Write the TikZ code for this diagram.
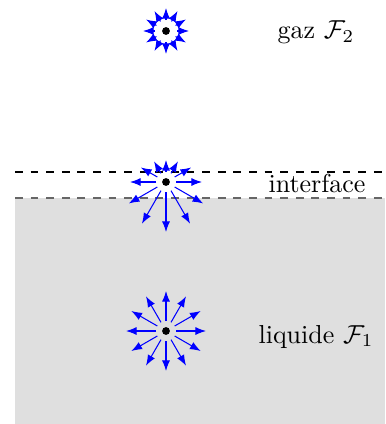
\documentclass[tikz,border=0pt]{standalone}
\usetikzlibrary{arrows.meta,calc}
\begin{document}
\begin{tikzpicture}[x=0.3846pt,y=-0.3846pt,
  arr/.style={blue,line width=0.4pt,-{Latex[length=4.1pt,width=3.1pt]}},
  dot/.style={circle,fill=black,inner sep=0pt,minimum size=3pt},
  lbl/.style={anchor=base,inner sep=0pt}]
\useasboundingbox (0,0) rectangle (385,424);
\fill[gray!25] (15,198) rectangle (385,424);
\draw[dashed,line width=0.4pt] (15,172) -- (385,172);
\draw[dashed,line width=0.4pt,black!60] (15,198) -- (385,198);
% molecules
\node[dot] (m2) at (166,31) {};
\node[dot] (mi) at (166,182) {};
\node[dot] (m1) at (166,331) {};
\foreach \a in {0,30,...,330}{
  \draw[arr] ($(m2)+(\a:11)$) -- ($(m2)+(\a:23)$);
  \draw[arr] ($(m1)+(\a:10)$) -- ($(m1)+(\a:40)$);
  \pgfmathsetmacro{\L}{36+14*sin(\a)}
  \draw[arr] ($(mi)+(\a:10)$) -- ($(mi)+(\a:\L)$);
}
% labels
\node[lbl] (g) at (316,39) {gaz $\mathcal{F}_2$};
\node[lbl] (i) at (317,192) {interface};
\node[lbl] (l) at (316,343) {liquide $\mathcal{F}_1$};
\end{tikzpicture}
\end{document}
